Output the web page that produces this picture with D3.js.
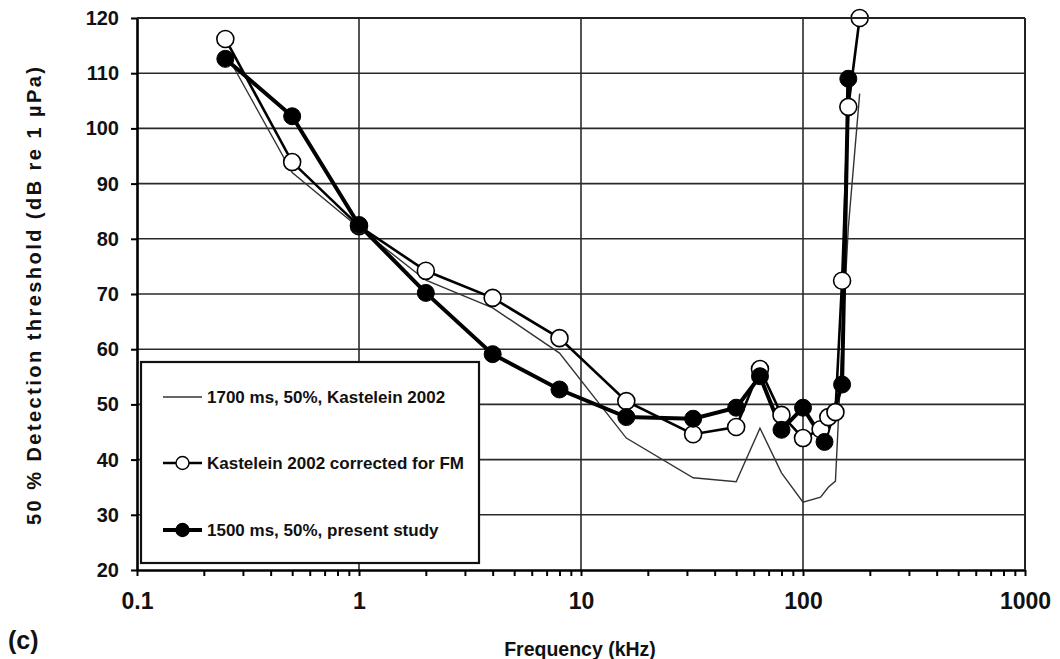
<!DOCTYPE html>
<html>
<head>
<meta charset="utf-8">
<script src="https://cdn.jsdelivr.net/npm/d3@7"></script>
<style>
  html, body { margin: 0; padding: 0; background: #fff; }
  svg { display: block; font-family: "Liberation Sans", Arial, sans-serif; font-weight: bold; }
</style>
</head>
<body>
<svg id="chart" width="1060" height="659"></svg>
<script>
// Frequencies (kHz) and 50% detection thresholds (dB re 1 µPa)
const kasteleinFreq = [0.25, 0.5, 1, 2, 4, 8, 16, 32, 50, 64, 80, 100, 120, 130, 140, 150, 160, 180];
const kasteleinDb   = [113.8, 92.0, 82.0, 72.5, 67.5, 59.3, 43.9, 36.7, 36.0, 45.7, 37.6, 32.3, 33.2, 35.0, 36.1, 61.0, 82.0, 106.3];

const correctedFreq = [0.25, 0.5, 1, 2, 4, 8, 16, 32, 50, 64, 80, 100, 120, 130, 140, 150, 160, 180];
const correctedDb   = [116.2, 93.9, 82.3, 74.2, 69.3, 62.0, 50.6, 44.6, 45.9, 56.4, 48.1, 43.9, 45.5, 47.7, 48.6, 72.4, 103.9, 120.0];

const presentFreq = [0.25, 0.5, 1, 2, 4, 8, 16, 32, 50, 64, 80, 100, 125, 150, 160];
const presentDb   = [112.6, 102.2, 82.5, 70.2, 59.1, 52.7, 47.7, 47.4, 49.4, 55.1, 45.4, 49.4, 43.2, 53.6, 109.0];

const yTicks = [20, 30, 40, 50, 60, 70, 80, 90, 100, 110, 120];
const xDecades = [0.1, 1, 10, 100, 1000];
const xLabels = ["0.1", "1", "10", "100", "1000"];

const legendLabels = [
  "1700 ms, 50%, Kastelein 2002",
  "Kastelein 2002 corrected for FM",
  "1500 ms, 50%, present study"
];

const svg = d3.select("#chart");
const plot = { left: 137, right: 1025, top: 18, bottom: 570 };

const x = d3.scaleLog().domain([0.1, 1000]).range([plot.left, plot.right]);
const y = d3.scaleLinear().domain([20, 120]).range([plot.bottom, plot.top]);

// Minor ticks: every integer multiple within each decade
const xMinor = [];
xDecades.slice(0, -1).forEach(d => { for (let k = 1; k <= 9; k++) xMinor.push(d * k); });
xMinor.push(1000);

// Grid
const grid = svg.append("g");
grid.selectAll("line.h").data(yTicks.filter(v => v > 20)).join("line")
  .attr("x1", plot.left).attr("x2", plot.right)
  .attr("y1", d => y(d)).attr("y2", d => y(d))
  .attr("stroke", "#2a2a2a").attr("stroke-width", 1.6);
grid.selectAll("line.v").data(xDecades.slice(1)).join("line")
  .attr("x1", d => x(d)).attr("x2", d => x(d))
  .attr("y1", plot.top).attr("y2", plot.bottom)
  .attr("stroke", "#2a2a2a").attr("stroke-width", 1.6);

// Axes
const yAxis = svg.append("g")
  .attr("transform", `translate(${plot.left},0)`)
  .call(d3.axisLeft(y).tickValues(yTicks).tickSize(6).tickPadding(12).tickSizeOuter(0));
const xAxis = svg.append("g")
  .attr("transform", `translate(0,${plot.bottom})`)
  .call(d3.axisBottom(x).tickValues(xMinor).tickSize(6).tickSizeOuter(0)
    .tickFormat(d => { const i = xDecades.findIndex(v => Math.abs(v - d) < 1e-9); return i >= 0 ? xLabels[i] : ""; })
    .tickPadding(17));

[yAxis, xAxis].forEach(a => {
  a.select(".domain").attr("stroke", "#000").attr("stroke-width", 2.6);
  a.selectAll(".tick line").attr("stroke", "#000").attr("stroke-width", 2);
  a.selectAll(".tick text").attr("fill", "#111")
    .attr("font-family", "'Liberation Sans', Arial, sans-serif").attr("font-weight", "bold");
});
yAxis.selectAll(".tick text").attr("font-size", 20);
xAxis.selectAll(".tick text").attr("font-size", 23);

// Legend box (drawn before the data so the curves pass over it)
const legend = svg.append("g");
legend.append("rect")
  .attr("x", 141).attr("y", 362).attr("width", 338).attr("height", 201)
  .attr("fill", "#fff").attr("stroke", "#111").attr("stroke-width", 2.2);

// Curves
const line = d3.line().x(d => x(d[0])).y(d => y(d[1]));
const zip = (f, v) => f.map((d, i) => [d, v[i]]);

svg.append("path").datum(zip(kasteleinFreq, kasteleinDb))
  .attr("d", line).attr("fill", "none").attr("stroke", "#333").attr("stroke-width", 1.4);

svg.append("path").datum(zip(correctedFreq, correctedDb))
  .attr("d", line).attr("fill", "none").attr("stroke", "#000").attr("stroke-width", 2.6);

svg.append("path").datum(zip(presentFreq, presentDb))
  .attr("d", line).attr("fill", "none").attr("stroke", "#000").attr("stroke-width", 4);

svg.append("g").selectAll("circle").data(zip(correctedFreq, correctedDb)).join("circle")
  .attr("cx", d => x(d[0])).attr("cy", d => y(d[1])).attr("r", 8.5)
  .attr("fill", "#fff").attr("stroke", "#000").attr("stroke-width", 1.6);

svg.append("g").selectAll("circle").data(zip(presentFreq, presentDb)).join("circle")
  .attr("cx", d => x(d[0])).attr("cy", d => y(d[1])).attr("r", 8.5)
  .attr("fill", "#000").attr("stroke", "#000").attr("stroke-width", 1);

// Top and right frame
svg.append("line").attr("x1", plot.left).attr("x2", plot.right).attr("y1", plot.top).attr("y2", plot.top)
  .attr("stroke", "#222").attr("stroke-width", 2);
svg.append("line").attr("x1", plot.right).attr("x2", plot.right).attr("y1", plot.top).attr("y2", plot.bottom)
  .attr("stroke", "#222").attr("stroke-width", 2);

// Legend entries
const rows = [397, 463, 530];
const styles = [
  { w: 1.4, marker: null },
  { w: 2.6, marker: "#fff" },
  { w: 4, marker: "#000" }
];
rows.forEach((ry, i) => {
  legend.append("line").attr("x1", 163).attr("x2", 202).attr("y1", ry).attr("y2", ry)
    .attr("stroke", i === 0 ? "#333" : "#000").attr("stroke-width", styles[i].w);
  if (styles[i].marker) {
    legend.append("circle").attr("cx", 182.5).attr("cy", ry).attr("r", 6.5)
      .attr("fill", styles[i].marker).attr("stroke", "#000").attr("stroke-width", 1.4);
  }
  legend.append("text").attr("x", 207).attr("y", ry + 6)
    .attr("font-size", 17).attr("fill", "#111").text(legendLabels[i]);
});
legend.raise();

// Axis titles and panel label
svg.append("text").attr("x", 580).attr("y", 656).attr("text-anchor", "middle")
  .attr("font-size", 19.5).attr("fill", "#111").text("Frequency (kHz)");
svg.append("text").attr("transform", "translate(41,296) rotate(-90)").attr("text-anchor", "middle")
  .attr("font-size", 20).attr("fill", "#111")
  .attr("textLength", 458).attr("lengthAdjust", "spacing")
  .text("50 % Detection threshold (dB re 1 µPa)");
svg.append("text").attr("x", 8).attr("y", 649)
  .attr("font-size", 25).attr("fill", "#111").text("(c)");
</script>
</body>
</html>
